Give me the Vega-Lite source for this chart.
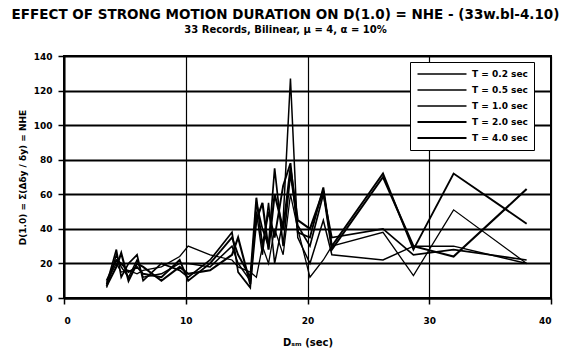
{
  "$schema": "https://vega.github.io/schema/vega-lite/v6.json",
  "autosize": "none",
  "width": 487,
  "height": 242,
  "padding": {"left": 64, "top": 56, "right": 15, "bottom": 63},
  "background": "white",
  "title": {
    "text": "EFFECT OF STRONG MOTION DURATION ON D(1.0) = NHE - (33w.bl-4.10)",
    "subtitle": "33 Records, Bilinear, μ = 4, α = 10%",
    "font": "DejaVu Sans",
    "fontSize": 13.5,
    "fontWeight": 900,
    "subtitleFont": "DejaVu Sans",
    "subtitleFontSize": 10,
    "subtitleFontWeight": "bold",
    "color": "black",
    "subtitleColor": "black",
    "anchor": "middle",
    "offset": 17,
    "subtitlePadding": 4,
    "frame": "group",
    "dx": -22
  },
  "config": {
    "view": {"stroke": "black", "strokeWidth": 2},
    "axis": {
      "labelFont": "DejaVu Sans",
      "labelFontWeight": "bold",
      "labelFontSize": 9,
      "labelColor": "black",
      "titleFont": "DejaVu Sans",
      "titleFontWeight": "bold",
      "titleFontSize": 9,
      "titleColor": "black",
      "domainColor": "black",
      "tickColor": "black",
      "gridColor": "black",
      "gridOpacity": 1
    }
  },
  "data": {
    "values": [
      {"d": 3.5, "T": "T = 0.2 sec", "v": 9}, {"d": 4.3, "T": "T = 0.2 sec", "v": 20}, {"d": 4.7, "T": "T = 0.2 sec", "v": 15}, {"d": 5.3, "T": "T = 0.2 sec", "v": 16}, {"d": 6.0, "T": "T = 0.2 sec", "v": 14}, {"d": 6.5, "T": "T = 0.2 sec", "v": 16}, {"d": 8.0, "T": "T = 0.2 sec", "v": 18}, {"d": 9.5, "T": "T = 0.2 sec", "v": 24}, {"d": 10.2, "T": "T = 0.2 sec", "v": 30}, {"d": 12.0, "T": "T = 0.2 sec", "v": 25}, {"d": 13.8, "T": "T = 0.2 sec", "v": 22}, {"d": 14.3, "T": "T = 0.2 sec", "v": 18}, {"d": 15.3, "T": "T = 0.2 sec", "v": 15}, {"d": 15.8, "T": "T = 0.2 sec", "v": 12}, {"d": 16.3, "T": "T = 0.2 sec", "v": 30}, {"d": 16.8, "T": "T = 0.2 sec", "v": 20}, {"d": 17.3, "T": "T = 0.2 sec", "v": 40}, {"d": 18.0, "T": "T = 0.2 sec", "v": 25}, {"d": 18.6, "T": "T = 0.2 sec", "v": 60}, {"d": 19.2, "T": "T = 0.2 sec", "v": 40}, {"d": 20.2, "T": "T = 0.2 sec", "v": 12}, {"d": 21.3, "T": "T = 0.2 sec", "v": 22}, {"d": 22.0, "T": "T = 0.2 sec", "v": 30}, {"d": 26.2, "T": "T = 0.2 sec", "v": 38}, {"d": 28.7, "T": "T = 0.2 sec", "v": 13}, {"d": 32.0, "T": "T = 0.2 sec", "v": 51}, {"d": 38.0, "T": "T = 0.2 sec", "v": 20},
      {"d": 3.5, "T": "T = 0.5 sec", "v": 6}, {"d": 4.3, "T": "T = 0.5 sec", "v": 25}, {"d": 4.7, "T": "T = 0.5 sec", "v": 18}, {"d": 5.3, "T": "T = 0.5 sec", "v": 12}, {"d": 6.0, "T": "T = 0.5 sec", "v": 22}, {"d": 6.5, "T": "T = 0.5 sec", "v": 12}, {"d": 8.0, "T": "T = 0.5 sec", "v": 14}, {"d": 9.5, "T": "T = 0.5 sec", "v": 20}, {"d": 10.2, "T": "T = 0.5 sec", "v": 20}, {"d": 12.0, "T": "T = 0.5 sec", "v": 18}, {"d": 13.8, "T": "T = 0.5 sec", "v": 30}, {"d": 14.3, "T": "T = 0.5 sec", "v": 20}, {"d": 15.3, "T": "T = 0.5 sec", "v": 10}, {"d": 15.8, "T": "T = 0.5 sec", "v": 50}, {"d": 16.3, "T": "T = 0.5 sec", "v": 25}, {"d": 16.8, "T": "T = 0.5 sec", "v": 55}, {"d": 17.3, "T": "T = 0.5 sec", "v": 20}, {"d": 18.0, "T": "T = 0.5 sec", "v": 45}, {"d": 18.6, "T": "T = 0.5 sec", "v": 127}, {"d": 19.2, "T": "T = 0.5 sec", "v": 35}, {"d": 20.2, "T": "T = 0.5 sec", "v": 20}, {"d": 21.3, "T": "T = 0.5 sec", "v": 45}, {"d": 22.0, "T": "T = 0.5 sec", "v": 25}, {"d": 26.2, "T": "T = 0.5 sec", "v": 22}, {"d": 28.7, "T": "T = 0.5 sec", "v": 30}, {"d": 32.0, "T": "T = 0.5 sec", "v": 30}, {"d": 38.0, "T": "T = 0.5 sec", "v": 20},
      {"d": 3.5, "T": "T = 1.0 sec", "v": 8}, {"d": 4.3, "T": "T = 1.0 sec", "v": 28}, {"d": 4.7, "T": "T = 1.0 sec", "v": 12}, {"d": 5.3, "T": "T = 1.0 sec", "v": 20}, {"d": 6.0, "T": "T = 1.0 sec", "v": 25}, {"d": 6.5, "T": "T = 1.0 sec", "v": 10}, {"d": 8.0, "T": "T = 1.0 sec", "v": 20}, {"d": 9.5, "T": "T = 1.0 sec", "v": 16}, {"d": 10.2, "T": "T = 1.0 sec", "v": 12}, {"d": 12.0, "T": "T = 1.0 sec", "v": 22}, {"d": 13.8, "T": "T = 1.0 sec", "v": 38}, {"d": 14.3, "T": "T = 1.0 sec", "v": 15}, {"d": 15.3, "T": "T = 1.0 sec", "v": 6}, {"d": 15.8, "T": "T = 1.0 sec", "v": 55}, {"d": 16.3, "T": "T = 1.0 sec", "v": 40}, {"d": 16.8, "T": "T = 1.0 sec", "v": 30}, {"d": 17.3, "T": "T = 1.0 sec", "v": 75}, {"d": 18.0, "T": "T = 1.0 sec", "v": 30}, {"d": 18.6, "T": "T = 1.0 sec", "v": 72}, {"d": 19.2, "T": "T = 1.0 sec", "v": 42}, {"d": 20.2, "T": "T = 1.0 sec", "v": 30}, {"d": 21.3, "T": "T = 1.0 sec", "v": 60}, {"d": 22.0, "T": "T = 1.0 sec", "v": 35}, {"d": 26.2, "T": "T = 1.0 sec", "v": 40}, {"d": 28.7, "T": "T = 1.0 sec", "v": 25}, {"d": 32.0, "T": "T = 1.0 sec", "v": 28}, {"d": 38.0, "T": "T = 1.0 sec", "v": 22},
      {"d": 3.5, "T": "T = 2.0 sec", "v": 10}, {"d": 4.3, "T": "T = 2.0 sec", "v": 22}, {"d": 4.7, "T": "T = 2.0 sec", "v": 20}, {"d": 5.3, "T": "T = 2.0 sec", "v": 15}, {"d": 6.0, "T": "T = 2.0 sec", "v": 18}, {"d": 6.5, "T": "T = 2.0 sec", "v": 14}, {"d": 8.0, "T": "T = 2.0 sec", "v": 12}, {"d": 9.5, "T": "T = 2.0 sec", "v": 22}, {"d": 10.2, "T": "T = 2.0 sec", "v": 10}, {"d": 12.0, "T": "T = 2.0 sec", "v": 20}, {"d": 13.8, "T": "T = 2.0 sec", "v": 35}, {"d": 14.3, "T": "T = 2.0 sec", "v": 25}, {"d": 15.3, "T": "T = 2.0 sec", "v": 12}, {"d": 15.8, "T": "T = 2.0 sec", "v": 58}, {"d": 16.3, "T": "T = 2.0 sec", "v": 30}, {"d": 16.8, "T": "T = 2.0 sec", "v": 50}, {"d": 17.3, "T": "T = 2.0 sec", "v": 35}, {"d": 18.0, "T": "T = 2.0 sec", "v": 65}, {"d": 18.6, "T": "T = 2.0 sec", "v": 78}, {"d": 19.2, "T": "T = 2.0 sec", "v": 38}, {"d": 20.2, "T": "T = 2.0 sec", "v": 35}, {"d": 21.3, "T": "T = 2.0 sec", "v": 64}, {"d": 22.0, "T": "T = 2.0 sec", "v": 30}, {"d": 26.2, "T": "T = 2.0 sec", "v": 72}, {"d": 28.7, "T": "T = 2.0 sec", "v": 28}, {"d": 32.0, "T": "T = 2.0 sec", "v": 72}, {"d": 38.0, "T": "T = 2.0 sec", "v": 43},
      {"d": 3.5, "T": "T = 4.0 sec", "v": 7}, {"d": 4.3, "T": "T = 4.0 sec", "v": 18}, {"d": 4.7, "T": "T = 4.0 sec", "v": 26}, {"d": 5.3, "T": "T = 4.0 sec", "v": 10}, {"d": 6.0, "T": "T = 4.0 sec", "v": 20}, {"d": 6.5, "T": "T = 4.0 sec", "v": 18}, {"d": 8.0, "T": "T = 4.0 sec", "v": 10}, {"d": 9.5, "T": "T = 4.0 sec", "v": 18}, {"d": 10.2, "T": "T = 4.0 sec", "v": 14}, {"d": 12.0, "T": "T = 4.0 sec", "v": 16}, {"d": 13.8, "T": "T = 4.0 sec", "v": 25}, {"d": 14.3, "T": "T = 4.0 sec", "v": 35}, {"d": 15.3, "T": "T = 4.0 sec", "v": 8}, {"d": 15.8, "T": "T = 4.0 sec", "v": 45}, {"d": 16.3, "T": "T = 4.0 sec", "v": 55}, {"d": 16.8, "T": "T = 4.0 sec", "v": 28}, {"d": 17.3, "T": "T = 4.0 sec", "v": 60}, {"d": 18.0, "T": "T = 4.0 sec", "v": 40}, {"d": 18.6, "T": "T = 4.0 sec", "v": 75}, {"d": 19.2, "T": "T = 4.0 sec", "v": 45}, {"d": 20.2, "T": "T = 4.0 sec", "v": 40}, {"d": 21.3, "T": "T = 4.0 sec", "v": 62}, {"d": 22.0, "T": "T = 4.0 sec", "v": 28}, {"d": 26.2, "T": "T = 4.0 sec", "v": 70}, {"d": 28.7, "T": "T = 4.0 sec", "v": 30}, {"d": 32.0, "T": "T = 4.0 sec", "v": 24}, {"d": 38.0, "T": "T = 4.0 sec", "v": 63}
    ]
  },
  "mark": {"type": "line", "color": "black", "strokeJoin": "miter", "clip": true},
  "encoding": {
    "x": {
      "field": "d",
      "type": "quantitative",
      "scale": {"domain": [0, 40], "nice": false},
      "axis": {
        "values": [0, 10, 20, 30, 40],
        "title": "Dₛₘ (sec)",
        "grid": true,
        "gridWidth": 1.2,
        "tickSize": 6,
        "tickWidth": 1.5,
        "domainWidth": 2,
        "labelPadding": 12,
        "titlePadding": 12,
        "titleFontSize": 10
      }
    },
    "y": {
      "field": "v",
      "type": "quantitative",
      "scale": {"domain": [0, 140], "nice": false},
      "axis": {
        "values": [0, 20, 40, 60, 80, 100, 120, 140],
        "title": "D(1.0) = Σ(Δδy / δy) = NHE",
        "grid": true,
        "gridWidth": 2,
        "tickSize": 6,
        "tickWidth": 1.5,
        "domainWidth": 2,
        "labelPadding": 6,
        "titlePadding": 6
      }
    },
    "strokeWidth": {
      "field": "T",
      "type": "ordinal",
      "scale": {
        "domain": ["T = 0.2 sec", "T = 0.5 sec", "T = 1.0 sec", "T = 2.0 sec", "T = 4.0 sec"],
        "range": [1.3, 2.1, 2.8, 3.4, 4.3]
      },
      "legend": {
        "title": null,
        "orient": "none",
        "legendX": 346,
        "legendY": 6,
        "symbolType": "stroke",
        "symbolSize": 2400,
        "clipHeight": 12,
        "symbolStrokeColor": "black",
        "labelFont": "DejaVu Sans",
        "labelFontWeight": "bold",
        "labelFontSize": 9,
        "labelColor": "black",
        "fillColor": "white",
        "strokeColor": "black",
        "padding": 6,
        "rowPadding": 4,
        "labelOffset": 4
      }
    }
  }
}
